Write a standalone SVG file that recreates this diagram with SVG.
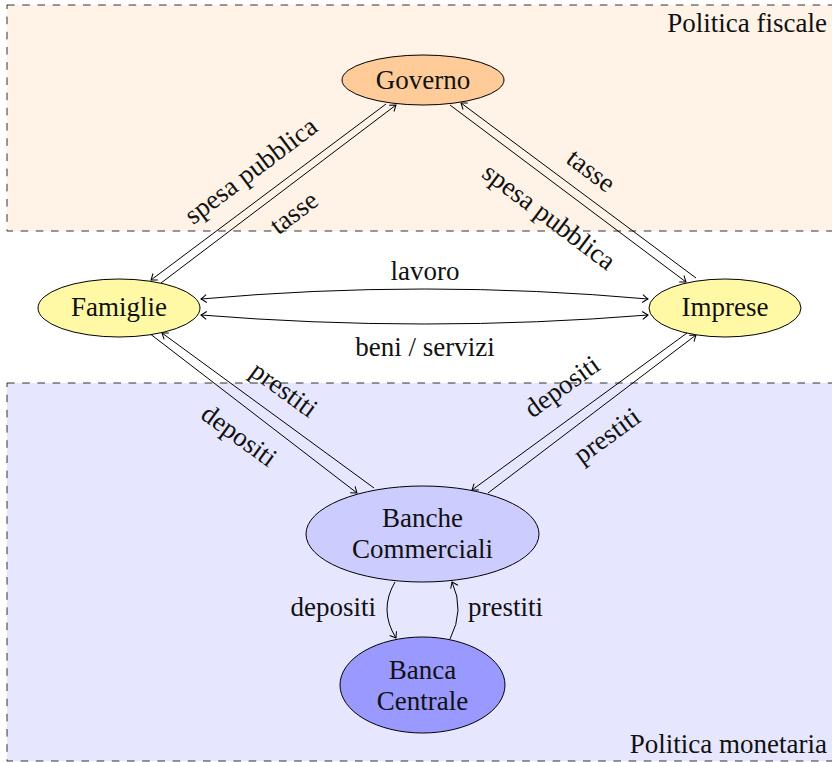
<svg xmlns="http://www.w3.org/2000/svg" width="832" height="762" viewBox="0 0 832 762">
<style>
text{font-family:"Liberation Serif","Times New Roman",serif;font-size:27px;fill:#111}
.lbl{text-anchor:middle}
.node ellipse{stroke:#000;stroke-width:1}
.region{stroke:#333;stroke-width:1;stroke-dasharray:7.6 7.6}
#connectors path{fill:none;stroke:#000;stroke-width:1}
</style>
<defs>
<marker id="arr" viewBox="-7 -5 9 10" markerWidth="9" markerHeight="10" refX="0" refY="0" orient="auto" markerUnits="userSpaceOnUse">
<path d="M-5.5,-4 Q-1.5,-1 0,0 Q-1.5,1 -5.5,4" fill="none" stroke="#000" stroke-width="1"/>
</marker>
<marker id="arrs" viewBox="-7 -5 9 10" markerWidth="9" markerHeight="10" refX="0" refY="0" orient="auto-start-reverse" markerUnits="userSpaceOnUse">
<path d="M-5.5,-4 Q-1.5,-1 0,0 Q-1.5,1 -5.5,4" fill="none" stroke="#000" stroke-width="1"/>
</marker>
</defs>
<g id="regions">
<rect class="region" x="7" y="5" width="840" height="226" fill="#FFF2E6"/>
<rect class="region" x="7" y="383" width="840" height="378" fill="#E6E6FF"/>
<text x="827" y="32" text-anchor="end">Politica fiscale</text>
<text x="827" y="753" text-anchor="end">Politica monetaria</text>
</g>
<g id="connectors">
<path d="M386,104 L151,280" marker-end="url(#arr)"/>
<path d="M161,283 L396,105" marker-end="url(#arr)"/>
<path d="M450,105 L686,282" marker-end="url(#arr)"/>
<path d="M696,278 L461,103" marker-end="url(#arr)"/>
<path d="M201,299 Q425,279 648,299" marker-start="url(#arrs)" marker-end="url(#arrs)"/>
<path d="M201,315 Q425,333 648,315" marker-start="url(#arrs)" marker-end="url(#arrs)"/>
<path d="M149,333 L357,493" marker-end="url(#arr)"/>
<path d="M374,488 L162,333" marker-end="url(#arr)"/>
<path d="M687,333 L472,490" marker-end="url(#arr)"/>
<path d="M488,493 L696,335" marker-end="url(#arr)"/>
<path d="M395,582 Q378.5,610 396,638" marker-end="url(#arr)"/>
<path d="M450,639 Q465,610 452,582" marker-end="url(#arr)"/>
<text class="lbl" transform="translate(252,172) rotate(-37)" y="7">spesa pubblica</text>
<text class="lbl" transform="translate(295,214) rotate(-37)" y="7">tasse</text>
<text class="lbl" transform="translate(590,172) rotate(37)" y="7">tasse</text>
<text class="lbl" transform="translate(548,218) rotate(37)" y="7">spesa pubblica</text>
<text class="lbl" x="425" y="280">lavoro</text>
<text class="lbl" x="425" y="356">beni / servizi</text>
<text class="lbl" transform="translate(283,391) rotate(36)" y="7">prestiti</text>
<text class="lbl" transform="translate(238,437) rotate(36)" y="7">depositi</text>
<text class="lbl" transform="translate(563,388) rotate(-36)" y="7">depositi</text>
<text class="lbl" transform="translate(608,437) rotate(-36)" y="7">prestiti</text>
<text x="376" y="616" text-anchor="end">depositi</text>
<text x="468" y="616">prestiti</text>
</g>
<g id="governo" class="node">
<ellipse cx="423" cy="80" rx="81" ry="25" fill="#FFCC99"/>
<text class="lbl" x="423" y="89">Governo</text>
</g>
<g id="famiglie" class="node">
<ellipse cx="119" cy="308" rx="81" ry="29" fill="#FFF9A6"/>
<text class="lbl" x="119" y="316">Famiglie</text>
</g>
<g id="imprese" class="node">
<ellipse cx="725" cy="308" rx="76" ry="29" fill="#FFF9A6"/>
<text class="lbl" x="725" y="316">Imprese</text>
</g>
<g id="banche" class="node">
<ellipse cx="422.5" cy="534" rx="116.5" ry="48" fill="#CCCCFF"/>
<text class="lbl" x="422.5" y="527">Banche</text>
<text class="lbl" x="422.5" y="558">Commerciali</text>
</g>
<g id="banca" class="node">
<ellipse cx="422.5" cy="685" rx="82.5" ry="48" fill="#9999FF"/>
<text class="lbl" x="422.5" y="679">Banca</text>
<text class="lbl" x="422.5" y="710">Centrale</text>
</g>
</svg>
